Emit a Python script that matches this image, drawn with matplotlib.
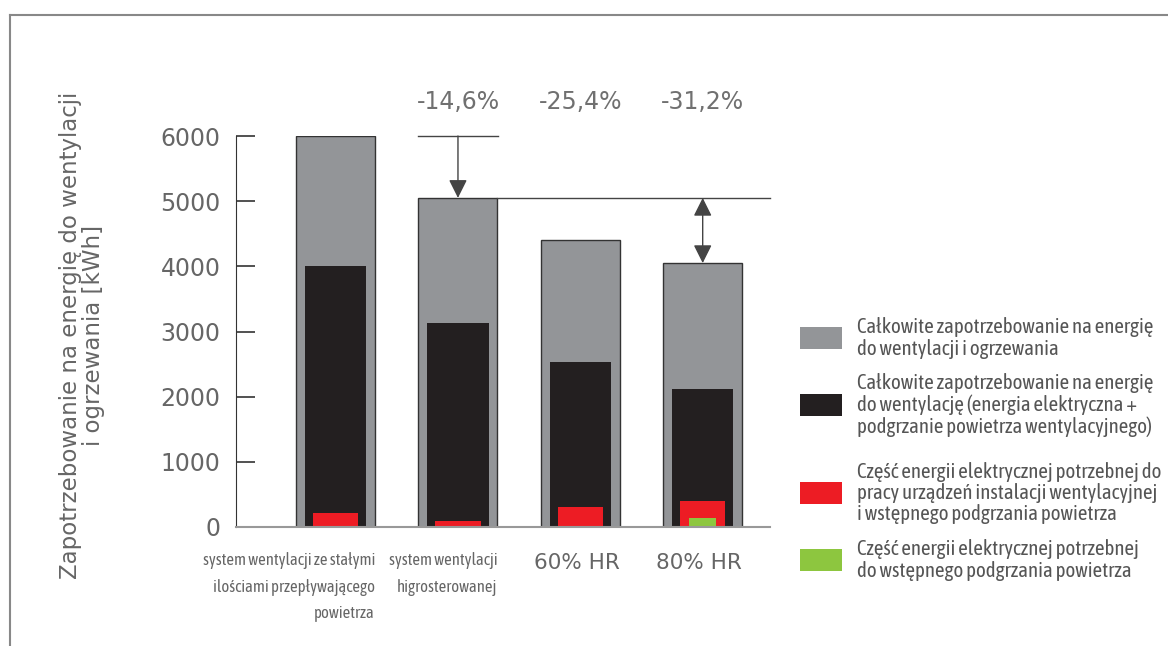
import matplotlib
matplotlib.use("Agg")
import matplotlib.pyplot as plt
from matplotlib.patches import Rectangle
from matplotlib.lines import Line2D

W, H = 1168, 646

categories = ["system wentylacji ze stałymi\nilościami przepływającego\npowietrza",
              "system wentylacji\nhigrosterowanej",
              "60% HR",
              "80% HR"]
total = [6000, 5050, 4400, 4050]        # wentylacja i ogrzewanie
ventilation = [4000, 3130, 2530, 2120]  # wentylacja
electric = [210, 90, 305, 400]          # energia elektryczna
preheat = [0, 0, 0, 140]                # wstępne podgrzanie
percent = ["-14,6%", "-25,4%", "-31,2%"]
yticks = [0, 1000, 2000, 3000, 4000, 5000, 6000]

legend_labels = ["Całkowite zapotrzebowanie na energię\ndo wentylacji i ogrzewania",
                 "Całkowite zapotrzebowanie na energię\ndo wentylację (energia elektryczna +\npodgrzanie powietrza wentylacyjnego)",
                 "Część energii elektrycznej potrzebnej do\npracy urządzeń instalacji wentylacyjnej\ni wstępnego podgrzania powietrza",
                 "Część energii elektrycznej potrzebnej\ndo wstępnego podgrzania powietrza"]
legend_y = [338, 405, 493, 560]  # pixel centres of legend entries

c_grey = "#939598"
c_black = "#231f20"
c_red = "#ed1c24"
c_green = "#8dc63f"
c_text = "#666666"

narrow = ["Asap Condensed", "Archivo Narrow", "Roboto"]

fig = plt.figure(figsize=(W / 100, H / 100), dpi=100)
ax = fig.add_axes([236 / W, (H - 527) / H, (770 - 236) / W, (527 - 136) / H])

x = list(range(len(categories)))
ax.bar(x, total, width=0.646, color=c_grey, edgecolor="#333333", linewidth=1.0)
ax.bar(x, ventilation, width=0.5, color=c_black, linewidth=0)
ax.bar(x, electric, width=0.37, color=c_red, linewidth=0)
ax.bar(x, preheat, width=0.22, color=c_green, linewidth=0)

ax.set_xlim(-0.814, 3.55)
ax.set_ylim(0, 6000)
ax.set_yticks(yticks)
ax.tick_params(axis="y", direction="in", length=14, width=1.2, color="#333333",
               pad=11, labelsize=17, labelcolor=c_text)
ax.set_xticks([])
for s in ["top", "right"]:
    ax.spines[s].set_visible(False)
ax.spines["left"].set_color("#333333")
ax.spines["bottom"].set_color("#999999")
ax.spines["bottom"].set_linewidth(1.5)

# category labels, right aligned to the bar edge
for i, lab in enumerate(categories):
    if "HR" in lab:
        ax.text(i + 0.323, -550, lab, ha="right", va="center",
                fontsize=15.5, color=c_text)
    else:
        ax.text(i + 0.323, -390, lab, ha="right", va="top",
                fontsize=12, color=c_text, family=narrow, linespacing=1.7)

# percent labels
for i, p in enumerate(percent):
    ax.text(i + 1, 6520, p, ha="center", va="center", fontsize=17,
            color="#707070", clip_on=False)

# reference lines and arrows
ax.plot([1 - 0.33, 1 + 0.33], [6000, 6000], color="#444444", lw=1, clip_on=False)
ax.plot([1 + 0.323, 3.55], [total[1], total[1]], color="#444444", lw=1, clip_on=False)
ax.annotate("", xy=(1, total[1]), xytext=(1, 6000),
            arrowprops=dict(arrowstyle="-|>", color="#444444", lw=1,
                            mutation_scale=28, shrinkA=0, shrinkB=0))
ax.annotate("", xy=(3, total[3]), xytext=(3, total[1]),
            arrowprops=dict(arrowstyle="<|-|>", color="#444444", lw=1,
                            mutation_scale=28, shrinkA=0, shrinkB=0))

ax.set_ylabel("Zapotrzebowanie na energię do wentylacji\ni ogrzewania [kWh]",
              fontsize=16.5, color=c_text, linespacing=1.0)
ax.yaxis.set_label_coords(-0.245, 0.49)

# legend drawn by hand to follow the original spacing
for c, lab, yc in zip([c_grey, c_black, c_red, c_green], legend_labels, legend_y):
    fig.add_artist(Rectangle((800 / W, (H - yc - 11) / H), 42 / W, 22 / H,
                             transform=fig.transFigure, facecolor=c, edgecolor="none"))
    fig.text(857 / W, (H - yc) / H, lab, ha="left", va="center", fontsize=15,
             family=narrow, color="#555555", linespacing=1.08)

# frame lines of the original picture
fig.add_artist(Line2D([10 / W, 1], [(H - 15) / H, (H - 15) / H], color="#888888", lw=1.5))
fig.add_artist(Line2D([10 / W, 10 / W], [0, (H - 15) / H], color="#888888", lw=1.5))

fig.savefig("out.png", dpi=100)
